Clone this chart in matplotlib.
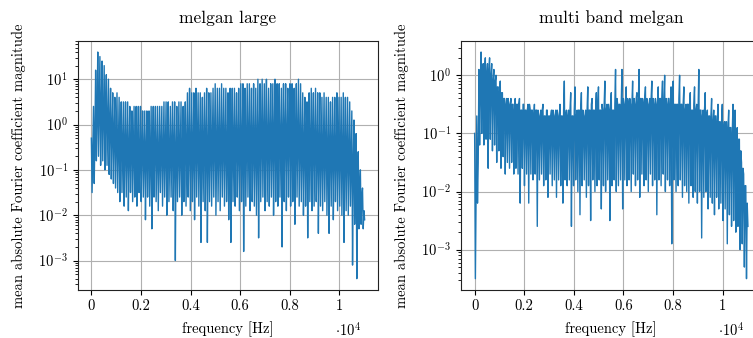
import numpy as np
import matplotlib
matplotlib.use("Agg")
import matplotlib.pyplot as plt
from matplotlib.ticker import FuncFormatter, MultipleLocator

# Spectra are stored in tenths of a decade (10*log10 of the magnitude),
# read off the reference picture. Each ~86 Hz period holds three bins:
# a peak, a trough and the top of the noise band (0 .. 11025 Hz).
NYQUIST_HZ = 11025

# melgan large: strong comb of harmonics every ~86 Hz
large_peaks_db = [
    -3, 4, 12, 16, 15, 14, 13, 11, 10, 8,
    7, 6, 7, 6, 5, 5, 5, 5, 4, 3,
    4, 4, 4, 4, 3, 3, 3, 3, 4, 4,
    4, 4, 4, 4, 5, 5, 5, 4, 5, 5,
    4, 5, 5, 4, 5, 7, 8, 7, 7, 8,
    7, 7, 6, 7, 8, 7, 7, 8, 9, 8,
    8, 9, 8, 8, 7, 8, 8, 8, 7, 8,
    9, 9, 8, 9, 9, 8, 9, 8, 10, 9,
    10, 9, 10, 8, 9, 9, 10, 9, 9, 8,
    9, 9, 8, 9, 9, 8, 9, 10, 9, 7,
    6, 5, 7, 8, 7, 8, 7, 7, 6, 7,
    6, 6, 5, 6, 6, 7, 6, 6, 7, 6,
    6, 5, 3, 1, -2, -6, -10, -14, -21,
]
large_lows_db = [
    -15, -13, -8, -7, -9, -8, -10, -9, -11, -12,
    -13, -14, -15, -17, -15, -18, -16, -19, -15, -17,
    -16, -18, -15, -17, -16, -21, -16, -18, -23, -16,
    -17, -19, -15, -18, -16, -20, -17, -16, -19, -30,
    -17, -16, -20, -17, -18, -16, -19, -17, -21, -16,
    -18, -26, -17, -19, -26, -17, -18, -16, -20, -17,
    -19, -16, -18, -17, -21, -26, -17, -18, -16, -19,
    -17, -28, -18, -16, -19, -17, -18, -20, -25, -17,
    -16, -19, -17, -18, -16, -20, -17, -18, -16, -27,
    -17, -19, -16, -18, -17, -22, -16, -18, -17, -20,
    -18, -25, -17, -19, -18, -17, -24, -18, -19, -17,
    -20, -24, -18, -21, -17, -19, -18, -20, -26, -19,
    -20, -18, -31, -22, -34, -23, -22, -23,
]
large_band_db = [
    -5, -2, 2, 4, 4, 3, 2, 1, 0, -1,
    -2, -3, -4, -4, -5, -5, -5, -6, -5, -6,
    -5, -6, -7, -5, -6, -6, -5, -7, -6, -5,
    -6, -7, -5, -6, -6, -5, -7, -6, -5, -6,
    -6, -5, -6, -4, -6, -5, -5, -6, -4, -5,
    -6, -5, -5, -4, -6, -5, -5, -4, -6, -5,
    -5, -4, -5, -6, -4, -5, -5, -4, -5, -4,
    -5, -4, -5, -4, -4, -5, -4, -5, -3, -4,
    -4, -3, -4, -3, -4, -3, -2, -3, -3, -2,
    -2, -3, -2, -3, -3, -4, -3, -4, -4, -5,
    -4, -5, -5, -4, -5, -6, -5, -5, -6, -5,
    -6, -5, -6, -6, -7, -6, -6, -7, -6, -7,
    -7, -8, -9, -10, -12, -14, -16, -19,
]

# multi band melgan: noisy band with scattered spikes
mb_peaks_db = [
    -10, -7, 1, 4, 2, 3, 2, 3, 2, 1,
    0, -2, -1, -3, -4, -4, -5, -4, -5, -4,
    -5, -4, -6, -5, -6, -5, -6, -6, -5, -6,
    -7, -6, -5, -7, -6, -7, -6, -7, -6, -7,
    -5, -7, -1, -6, -6, -3, -7, -2, -6, -6,
    -3, -7, -6, -2, -6, -4, -6, -3, -2, -6,
    -6, -1, -5, -6, -3, -6, 1, -5, -5, 1,
    -5, -2, -5, -5, -1, -5, -3, 1, -4, -5,
    -2, -5, -4, -1, -5, -5, -2, -4, -1, 0,
    -5, -4, -2, -1, -5, -5, 0, -5, -2, -5,
    -5, -3, -6, -2, -5, 1, -6, -6, -3, -6,
    -7, -4, -6, -7, -5, -8, -5, -8, -8, -6,
    -9, -5, -6, -9, -11, -15, -17, -19, -26,
]
mb_lows_db = [
    -35, -22, -12, -10, -12, -11, -16, -11, -13, -12,
    -15, -13, -16, -14, -17, -15, -16, -15, -17, -16,
    -17, -22, -16, -19, -17, -22, -17, -18, -17, -26,
    -18, -17, -19, -18, -21, -17, -19, -18, -21, -18,
    -19, -22, -18, -19, -18, -26, -19, -18, -20, -24,
    -19, -18, -21, -19, -25, -18, -20, -19, -18, -23,
    -19, -20, -18, -25, -19, -18, -20, -19, -18, -23,
    -18, -19, -18, -20, -17, -19, -18, -21, -17, -19,
    -18, -20, -17, -19, -18, -24, -18, -19, -17, -20,
    -18, -19, -29, -18, -20, -19, -18, -21, -19, -20,
    -22, -19, -21, -20, -22, -20, -28, -21, -20, -23,
    -21, -22, -24, -21, -23, -22, -25, -23, -29, -24,
    -26, -25, -27, -26, -30, -29, -33, -35,
]
mb_band_db = [
    -20, -15, -2, 0, 1, 0, 1, 0, -1, -1,
    -2, -3, -3, -4, -5, -4, -5, -5, -6, -5,
    -5, -6, -5, -6, -6, -5, -6, -7, -6, -6,
    -7, -6, -7, -6, -7, -7, -6, -7, -6, -7,
    -7, -6, -7, -7, -6, -7, -6, -7, -6, -6,
    -6, -7, -6, -6, -5, -6, -6, -5, -6, -5,
    -5, -6, -5, -5, -6, -5, -4, -5, -5, -4,
    -5, -4, -4, -5, -4, -4, -5, -4, -4, -4,
    -4, -5, -4, -4, -4, -5, -4, -4, -5, -4,
    -4, -5, -4, -5, -5, -4, -5, -5, -6, -5,
    -5, -6, -5, -6, -6, -6, -7, -6, -7, -7,
    -7, -8, -7, -8, -8, -8, -9, -8, -9, -9,
    -10, -9, -10, -11, -13, -16, -19, -22,
]

titles = ["melgan large", "multi band melgan"]


def to_magnitude(peaks_db, lows_db, band_db):
    """Interleave peak / trough / band-top bins and convert to linear magnitude."""
    n = len(peaks_db) + len(lows_db) + len(band_db)
    vals = np.empty(n)
    vals[0::3] = peaks_db
    vals[1::3] = lows_db
    vals[2::3] = band_db
    return 10 ** (vals / 10.0)


plt.rcParams["font.family"] = "cmr10"
plt.rcParams["mathtext.fontset"] = "cm"
plt.rcParams["axes.formatter.use_mathtext"] = True
plt.rcParams["axes.unicode_minus"] = False
plt.rcParams["font.size"] = 10.5

spectra = [to_magnitude(large_peaks_db, large_lows_db, large_band_db),
           to_magnitude(mb_peaks_db, mb_lows_db, mb_band_db)]

fig = plt.figure(figsize=(7.53, 3.38), dpi=100)
# right panel runs past the figure edge, as in the original export
axes = [fig.add_axes([0.1032, 0.142, 0.3992, 0.7376]),
        fig.add_axes([0.6122, 0.142, 0.3992, 0.7376])]

for ax, spec, title in zip(axes, spectra, titles):
    freqs = np.linspace(0, NYQUIST_HZ, len(spec))
    ax.plot(freqs, spec, color="#1f77b4", lw=1.0)
    ax.set_yscale("log")
    ax.grid(True, color="#b0b0b0", lw=0.8)
    ax.set_axisbelow(True)
    ax.set_title(title, pad=13)
    ax.set_xlabel("frequency [Hz]", labelpad=6)
    ax.set_ylabel("mean absolute Fourier coefficient magnitude", labelpad=9)
    ax.xaxis.set_major_locator(MultipleLocator(2000))
    ax.xaxis.set_major_formatter(FuncFormatter(lambda v, pos: f"{v / 1e4:g}"))
    ax.text(0.90, -0.16, r"$\cdot 10^{4}$", transform=ax.transAxes,
            ha="center", va="center")
    for side in ax.spines.values():
        side.set_color("#222222")

fig.savefig("out.png", dpi=100)
